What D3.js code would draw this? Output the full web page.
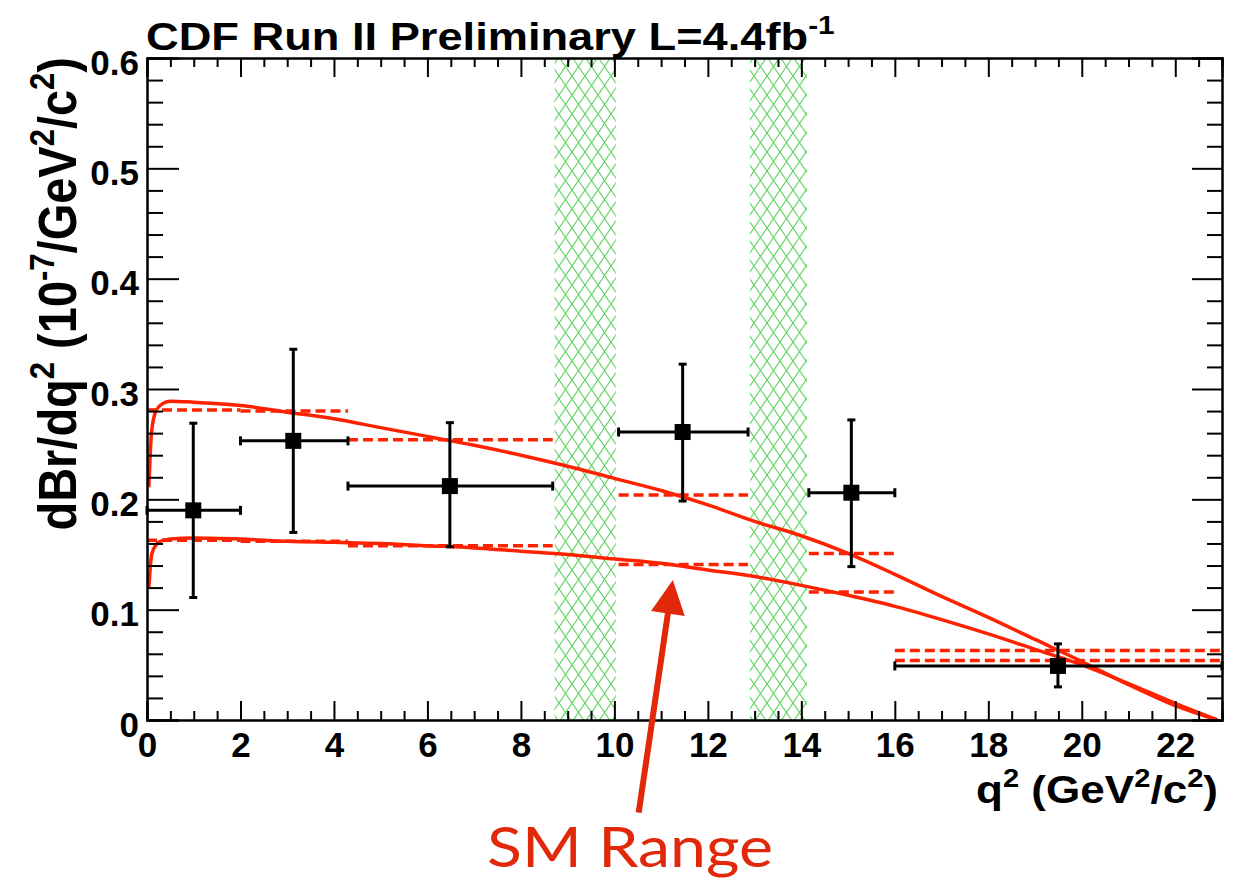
<!DOCTYPE html>
<html>
<head>
<meta charset="utf-8">
<script src="https://cdn.jsdelivr.net/npm/d3@7"></script>
<style>
  body { margin: 0; background: #fff; }
  svg text { font-family: "Liberation Sans", Arial, Helvetica, sans-serif; font-weight: bold; }
</style>
</head>
<body>
<script>
(()=>{
    const width = 1249;
    const height = 884;
    const marginTop = 58;
    const marginRight = 27;
    const marginBottom = 164;
    const marginLeft = 147;

    // measured bins (q2 in GeV2/c2, dBr/dq2 in 1e-7)
    const binLo = [0, 2, 4.3, 10.09, 14.16, 16];
    const binHi = [2, 4.3, 8.68, 12.86, 16, 23];
    const q2Centre = [0.99, 3.13, 6.48, 11.46, 15.07, 19.49];
    const dBr = [0.190, 0.253, 0.212, 0.261, 0.206, 0.049];
    const dBrHigh = [0.269, 0.336, 0.2695, 0.3225, 0.272, 0.069];
    const dBrLow = [0.111, 0.170, 0.157, 0.1985, 0.139, 0.030];

    // SM prediction integrated over each bin (upper / lower edge)
    const smBinHigh = [0.281, 0.280, 0.254, 0.204, 0.151, 0.063];
    const smBinLow = [0.163, 0.162, 0.158, 0.141, 0.116, 0.054];

    // SM range curves
    const smQ2 = [0.04, 0.1, 0.2, 0.35, 0.5, 1, 2, 3, 4, 5, 6, 7, 8, 9, 10, 11, 12, 13, 14, 15, 16, 17, 18, 19, 20, 21, 22, 22.9];
    const smUpper = [0.211, 0.262, 0.281, 0.287, 0.289, 0.288, 0.285, 0.279, 0.273, 0.265, 0.257, 0.249, 0.240, 0.230, 0.219, 0.208, 0.195, 0.180, 0.167, 0.151, 0.132, 0.112, 0.093, 0.073, 0.053, 0.032, 0.013, 0.0];
    const smLower = [0.120, 0.150, 0.159, 0.163, 0.164, 0.165, 0.164, 0.162, 0.161, 0.160, 0.158, 0.156, 0.153, 0.150, 0.146, 0.142, 0.136, 0.130, 0.122, 0.113, 0.103, 0.091, 0.078, 0.064, 0.050, 0.033, 0.015, 0.0];

    // charmonium veto regions
    const vetoLo = [8.72, 12.9];
    const vetoHi = [10.03, 14.12];

    const xTicks = [0, 2, 4, 6, 8, 10, 12, 14, 16, 18, 20, 22];
    const yTicks = [0, 0.1, 0.2, 0.3, 0.4, 0.5, 0.6];

    const title = [["CDF Run II Preliminary L=4.4fb", false], ["-1", true]];
    const xTitle = [["q", false], ["2", true], [" (GeV", false], ["2", true], ["/c", false], ["2", true], [")", false]];
    const yTitle = [["dBr/dq", false], ["2", true], [" (10", false], ["-7", true], ["/GeV", false], ["2", true], ["/c", false], ["2", true], [")", false]];
    const note = "SM Range";
    // arrow from the note up to the lower SM curve, in (q2, dBr) units
    const arrowTail = [10.52, -0.084];
    const arrowTip = [11.25, 0.127];

    const red = "#ff2200";
    const noteRed = "#e2280a";
    const green = "#66d466";

    const x = d3.scaleLinear()
    .domain([0, 23])
    .range([marginLeft, width - marginRight]);

    const y = d3.scaleLinear()
    .domain([0, 0.6])
    .range([height - marginBottom, marginTop]);

    const svg = d3.create("svg")
    .attr("width", width)
    .attr("height", height)
    .attr("viewBox", [0, 0, width, height]);

    const hatch = svg.append("defs").append("pattern")
    .attr("id", "hatch")
    .attr("patternUnits", "userSpaceOnUse")
    .attr("width", 13)
    .attr("height", 19);
    hatch.append("path")
    .attr("d", "M0,0L13,19M13,0L0,19")
    .attr("stroke", green)
    .attr("stroke-width", 1.2)
    .attr("fill", "none");

    svg.selectAll("vetoBands")
    .data(vetoLo.map((d, i) => [d, vetoHi[i]]))
    .enter()
    .append("rect")
    .attr("x", d => x(d[0]))
    .attr("width", d => x(d[1]) - x(d[0]))
    .attr("y", y(0.6))
    .attr("height", y(0) - y(0.6))
    .attr("fill", "url(#hatch)");

    // SM curves
    const line = d3.line()
    .x(d => x(d[0]))
    .y(d => y(d[1]))
    .curve(d3.curveMonotoneX);

    [smUpper, smLower].forEach(vals => {
        svg.append("path")
        .datum(smQ2.map((q, i) => [q, vals[i]]))
        .attr("d", line)
        .attr("fill", "none")
        .attr("stroke", red)
        .attr("stroke-width", 3.5);
    });

    // SM binned predictions, dashed
    [smBinHigh, smBinLow].forEach(vals => {
        svg.selectAll("smBins")
        .data(vals)
        .enter()
        .append("line")
        .attr("x1", (d, i) => x(binLo[i]))
        .attr("x2", (d, i) => x(binHi[i]))
        .attr("y1", d => y(d))
        .attr("y2", d => y(d))
        .attr("stroke", red)
        .attr("stroke-width", 3.5)
        .attr("stroke-dasharray", "10,5");
    });

    // data points with error bars
    const pts = svg.selectAll("points")
    .data(dBr.map((d, i) => i))
    .enter()
    .append("g")
    .attr("stroke", "black")
    .attr("stroke-width", 3);

    pts.append("line")
    .attr("x1", i => x(binLo[i]))
    .attr("x2", i => x(binHi[i]))
    .attr("y1", i => y(dBr[i]))
    .attr("y2", i => y(dBr[i]));

    pts.append("line")
    .attr("x1", i => x(q2Centre[i]))
    .attr("x2", i => x(q2Centre[i]))
    .attr("y1", i => y(dBrLow[i]))
    .attr("y2", i => y(dBrHigh[i]));

    // end caps
    [dBrLow, dBrHigh].forEach(arr => {
        pts.append("line")
        .attr("x1", i => x(q2Centre[i]) - 4)
        .attr("x2", i => x(q2Centre[i]) + 4)
        .attr("y1", i => y(arr[i]))
        .attr("y2", i => y(arr[i]));
    });
    [binLo, binHi].forEach(arr => {
        pts.append("line")
        .attr("x1", i => x(arr[i]))
        .attr("x2", i => x(arr[i]))
        .attr("y1", i => y(dBr[i]) - 4.5)
        .attr("y2", i => y(dBr[i]) + 4.5);
    });

    pts.append("rect")
    .attr("x", i => x(q2Centre[i]) - 8)
    .attr("y", i => y(dBr[i]) - 8)
    .attr("width", 16)
    .attr("height", 16)
    .attr("stroke", "none")
    .attr("fill", "black");

    // axes
    const xMinor = d3.range(0, 47).filter(i => i % 4 !== 0).map(i => i * 0.5);
    const yMinor = d3.range(0, 31).filter(i => i % 5 !== 0).map(i => i * 0.02);

    const styleAxis = g => {
        g.select(".domain").attr("stroke-width", 2);
        g.selectAll(".tick line").attr("stroke-width", 2);
        g.selectAll("text").attr("font-size", 35).attr("fill", "black");
    };

    svg.append("g")
    .attr("transform", `translate(0,${y(0)})`)
    .call(d3.axisBottom(x).tickValues(xTicks).tickSize(-19).tickPadding(12).tickFormat(d3.format("d")))
    .call(styleAxis);
    svg.append("g")
    .attr("transform", `translate(0,${y(0)})`)
    .call(d3.axisBottom(x).tickValues(xMinor).tickSize(-9).tickFormat(""))
    .call(styleAxis);

    svg.append("g")
    .attr("transform", `translate(0,${y(0.6)})`)
    .call(d3.axisTop(x).tickValues(xTicks).tickSize(-19).tickFormat(""))
    .call(styleAxis);
    svg.append("g")
    .attr("transform", `translate(0,${y(0.6)})`)
    .call(d3.axisTop(x).tickValues(xMinor).tickSize(-9).tickFormat(""))
    .call(styleAxis);

    svg.append("g")
    .attr("transform", `translate(${x(0)},0)`)
    .call(d3.axisLeft(y).tickValues(yTicks).tickSize(-32).tickPadding(8).tickFormat(d => d === 0 ? "0" : d.toFixed(1)))
    .call(styleAxis)
    .call(g => g.selectAll("text").attr("dy", 16));
    svg.append("g")
    .attr("transform", `translate(${x(0)},0)`)
    .call(d3.axisLeft(y).tickValues(yMinor).tickSize(-16).tickFormat(""))
    .call(styleAxis);

    svg.append("g")
    .attr("transform", `translate(${x(23)},0)`)
    .call(d3.axisRight(y).tickValues(yTicks).tickSize(-30).tickFormat(""))
    .call(styleAxis);
    svg.append("g")
    .attr("transform", `translate(${x(23)},0)`)
    .call(d3.axisRight(y).tickValues(yMinor).tickSize(-15).tickFormat(""))
    .call(styleAxis);

    // text with superscripts
    const richText = (t, parts, fs) => {
        t.attr("font-size", fs);
        let up = false;
        parts.forEach(([s, sup]) => {
            const sp = t.append("tspan").text(s);
            if (sup && !up) { sp.attr("font-size", fs * 0.66).attr("dy", -fs * 0.42); up = true; }
            else if (!sup && up) { sp.attr("dy", fs * 0.42); up = false; }
            else if (sup) sp.attr("font-size", fs * 0.66);
        });
        return t;
    };

    richText(svg.append("text")
    .attr("transform", `translate(146,50) scale(1.16,1)`), title, 39);

    richText(svg.append("text")
    .attr("transform", `translate(1218,803) scale(1.13,1)`)
    .attr("text-anchor", "end"), xTitle, 39);

    richText(svg.append("text")
    .attr("transform", `translate(76,57) scale(1.13,1) rotate(-90)`)
    .attr("text-anchor", "end"), yTitle, 47);

    // annotation
    const tx = x(arrowTail[0]), ty = y(arrowTail[1]);
    const hx = x(arrowTip[0]), hy = y(arrowTip[1]);
    const len = Math.hypot(hx - tx, hy - ty);
    const ux = (hx - tx) / len, uy = (hy - ty) / len;
    const headLen = 34, headW = 17;
    const bx = hx - ux * headLen, by = hy - uy * headLen;

    svg.append("line")
    .attr("x1", tx).attr("y1", ty)
    .attr("x2", bx + ux * 4).attr("y2", by + uy * 4)
    .attr("stroke", noteRed)
    .attr("stroke-width", 6);

    svg.append("path")
    .attr("d", `M${hx},${hy}L${bx - uy * headW},${by + ux * headW}L${bx + uy * headW},${by - ux * headW}Z`)
    .attr("fill", noteRed);

    svg.append("text")
    .attr("x", 487)
    .attr("y", 867)
    .style("font-family", "Lato, 'Open Sans', sans-serif")
    .style("font-weight", "normal")
    .attr("font-size", 56)
    .attr("textLength", 286)
    .attr("lengthAdjust", "spacingAndGlyphs")
    .attr("fill", noteRed)
    .text(note);

    d3.select("body").append(() => svg.node());
})()
</script>
</body>
</html>
